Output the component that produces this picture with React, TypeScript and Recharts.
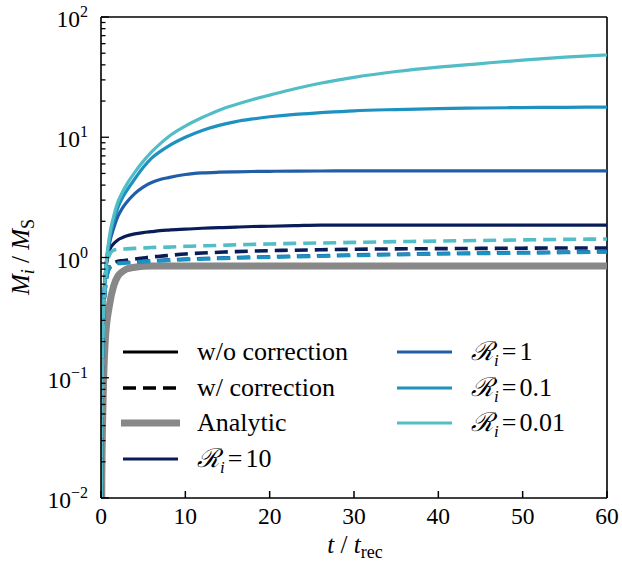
import React from 'react';
import { LineChart, Line, XAxis, YAxis, ReferenceLine, Customized } from 'recharts';

// time samples (t / t_rec)
const tValues = [0, 0.1, 0.25, 0.5, 1, 1.5, 2, 2.5, 3, 4, 5, 6, 7, 8, 10, 12, 14, 16, 18, 20, 23, 26, 30, 35, 40, 45, 50, 55, 60];

// w/o correction (solid)
const solidR10 = [0.001, 0.06, 0.3, 0.7, 1.15, 1.3, 1.4, 1.46, 1.51, 1.57, 1.61, 1.64, 1.67, 1.69, 1.72, 1.75, 1.77, 1.79, 1.81, 1.82, 1.84, 1.86, 1.86, 1.86, 1.86, 1.86, 1.86, 1.86, 1.86];
const solidR1 = [0.001, 0.06, 0.3, 0.7, 1.3, 1.75, 2.2, 2.55, 2.85, 3.4, 3.85, 4.2, 4.45, 4.62, 4.9, 5.05, 5.12, 5.16, 5.19, 5.21, 5.23, 5.24, 5.25, 5.25, 5.25, 5.25, 5.25, 5.25, 5.25];
const solidR01 = [0.001, 0.06, 0.3, 0.7, 1.4, 2.0, 2.6, 3.1, 3.55, 4.5, 5.6, 6.7, 7.6, 8.45, 10.0, 11.4, 12.55, 13.5, 14.2, 14.8, 15.5, 16.0, 16.6, 17.0, 17.3, 17.5, 17.65, 17.75, 17.8];
const solidR001 = [0.001, 0.06, 0.3, 0.7, 1.5, 2.2, 2.9, 3.45, 4.0, 5.1, 6.3, 7.55, 8.8, 10.1, 12.4, 14.6, 16.8, 18.7, 20.6, 22.4, 25.3, 28.1, 31.5, 35.2, 38.3, 41.0, 43.8, 46.3, 48.3];

// w/ correction (dashed)
const dashR10 = [0.001, 0.05, 0.25, 0.55, 0.85, 0.9, 0.93, 0.94, 0.95, 0.97, 0.99, 1.01, 1.025, 1.04, 1.07, 1.09, 1.105, 1.12, 1.13, 1.14, 1.15, 1.16, 1.17, 1.18, 1.185, 1.19, 1.195, 1.2, 1.2];
const dashR1 = [0.001, 0.05, 0.25, 0.55, 0.82, 0.87, 0.9, 0.905, 0.91, 0.92, 0.93, 0.94, 0.948, 0.955, 0.97, 0.98, 0.99, 1.0, 1.008, 1.015, 1.025, 1.035, 1.05, 1.065, 1.08, 1.09, 1.1, 1.11, 1.12];
const dashR01 = [0.001, 0.05, 0.25, 0.55, 0.81, 0.86, 0.89, 0.895, 0.9, 0.91, 0.92, 0.93, 0.938, 0.945, 0.96, 0.97, 0.98, 0.99, 0.998, 1.005, 1.015, 1.025, 1.04, 1.055, 1.07, 1.08, 1.09, 1.1, 1.11];
const dashR001 = [0.001, 0.05, 0.25, 0.6, 1.05, 1.15, 1.17, 1.175, 1.18, 1.19, 1.2, 1.21, 1.215, 1.22, 1.24, 1.25, 1.26, 1.275, 1.285, 1.295, 1.31, 1.32, 1.335, 1.355, 1.37, 1.385, 1.4, 1.415, 1.425];

// analytic
const analytic = [0.001, 0.015, 0.066, 0.2, 0.4, 0.58, 0.7, 0.76, 0.8, 0.83, 0.845, 0.85, 0.85, 0.85, 0.85, 0.85, 0.85, 0.85, 0.85, 0.85, 0.85, 0.85, 0.85, 0.85, 0.85, 0.85, 0.85, 0.85, 0.85];

const xTicks = [0, 10, 20, 30, 40, 50, 60];
const yMajor = [0.01, 0.1, 1, 10, 100];
const yMinorMultipliers = [2, 3, 4, 5, 6, 7, 8, 9];

const rLabels = ['10', '1', '0.1', '0.01'];
const rColors = ['#081d58', '#225ea8', '#1d91c0', '#52bdc6'];

const yTicks: number[] = [];
yMajor.forEach((m, i) => {
  yTicks.push(m);
  if (i < yMajor.length - 1) yMinorMultipliers.forEach((k) => yTicks.push(+(m * k).toPrecision(3)));
});

const data = tValues.map((t, i) => ({
  t,
  s10: solidR10[i],
  s1: solidR1[i],
  s01: solidR01[i],
  s001: solidR001[i],
  d10: dashR10[i],
  d1: dashR1[i],
  d01: dashR01[i],
  d001: dashR001[i],
  an: analytic[i],
}));

const solidKeys = ['s10', 's1', 's01', 's001'];
const dashKeys = ['d10', 'd1', 'd01', 'd001'];

const SERIF = { fontFamily: 'Liberation Serif' };
const DASH = '13 7';
const LEG_FS = 26;

const XTick = (props: any) => {
  const { x, y, payload } = props;
  return (
    <g>
      <line x1={x} x2={x} y1={y} y2={y - 7} stroke="#000" strokeWidth={1.5} />
      <text x={x} y={y + 26} textAnchor="middle" style={SERIF} fontSize={23.5} fill="#000">
        {payload.value}
      </text>
    </g>
  );
};

const YTick = (props: any) => {
  const { x, y, payload } = props;
  const v = payload.value;
  const lg = Math.log10(v);
  const exp = Math.round(lg);
  const major = Math.abs(lg - exp) < 1e-6;
  const len = major ? 8 : 4.5;
  return (
    <g>
      <line x1={x} x2={x + len} y1={y} y2={y} stroke="#000" strokeWidth={1.3} />
      {major && (
        <text x={x - 13} y={y + 10} textAnchor="end" style={SERIF} fontSize={23.5} fill="#000">
          10
          <tspan dy={-10} fontSize={16}>
            {exp < 0 ? '\u2212' + -exp : String(exp)}
          </tspan>
        </text>
      )}
    </g>
  );
};

const RText = ({ x, y, label }: { x: number; y: number; label: string }) => (
  <text x={x} y={y} style={SERIF} fontSize={LEG_FS} fill="#000">
    <tspan fontStyle="italic">ℛ</tspan>
    <tspan dy={6} fontSize={17} fontStyle="italic">i</tspan>
    <tspan dy={-6} dx={3}>=</tspan>
    <tspan dx={3}>{label}</tspan>
  </text>
);

const Overlay = () => {
  const col1X = 123;
  const col2X = 397;
  const rowY = [352, 388, 423, 459];
  const lineLen = 55;
  const textDx = 74;
  return (
    <g>
      <line x1={col1X} x2={col1X + lineLen} y1={rowY[0]} y2={rowY[0]} stroke="#000" strokeWidth={3.2} />
      <text x={col1X + textDx} y={rowY[0] + 8} style={SERIF} fontSize={LEG_FS} fill="#000">w/o correction</text>
      <line x1={col1X} x2={col1X + lineLen} y1={rowY[1]} y2={rowY[1]} stroke="#000" strokeWidth={3.4} strokeDasharray={DASH} />
      <text x={col1X + textDx} y={rowY[1] + 8} style={SERIF} fontSize={LEG_FS} fill="#000">w/ correction</text>
      <line x1={col1X - 2} x2={col1X + lineLen + 2} y1={rowY[2]} y2={rowY[2]} stroke="#888888" strokeWidth={7} />
      <text x={col1X + textDx} y={rowY[2] + 8} style={SERIF} fontSize={LEG_FS} fill="#000">Analytic</text>
      <line x1={col1X} x2={col1X + lineLen} y1={rowY[3]} y2={rowY[3]} stroke={rColors[0]} strokeWidth={3.2} />
      <RText x={col1X + textDx} y={rowY[3] + 8} label={rLabels[0]} />
      {[1, 2, 3].map((k, i) => (
        <g key={k}>
          <line x1={col2X} x2={col2X + lineLen} y1={rowY[i]} y2={rowY[i]} stroke={rColors[k]} strokeWidth={3.2} />
          <RText x={col2X + textDx} y={rowY[i] + 8} label={rLabels[k]} />
        </g>
      ))}
      <text x={355} y={553} textAnchor="middle" style={SERIF} fontSize={25} fill="#000">
        <tspan fontStyle="italic">t</tspan>
        <tspan> / </tspan>
        <tspan fontStyle="italic">t</tspan>
        <tspan dy={5} fontSize={18}>rec</tspan>
      </text>
      <text transform="translate(29,257) rotate(-90)" x={0} y={0} textAnchor="middle" style={SERIF} fontSize={25} fill="#000">
        <tspan fontStyle="italic">M</tspan>
        <tspan dy={5} fontSize={18} fontStyle="italic">i</tspan>
        <tspan dy={-5}> / </tspan>
        <tspan fontStyle="italic">M</tspan>
        <tspan dy={5} fontSize={18}>S</tspan>
      </text>
    </g>
  );
};

export default function App() {
  return (
    <div style={{ position: 'absolute', left: 0, top: 0, width: 622, height: 563, background: '#fff' }}>
      <LineChart width={622} height={563} data={data} margin={{ top: 17, right: 15, left: 0, bottom: 0 }}>
        <XAxis
          dataKey="t"
          type="number"
          domain={[0, 60]}
          ticks={xTicks}
          interval={0}
          allowDataOverflow
          height={65}
          tickSize={0}
          tickMargin={0}
          tickLine={false}
          tick={<XTick />}
          axisLine={{ stroke: '#000', strokeWidth: 1.6 }}
        />
        <YAxis
          type="number"
          scale="log"
          domain={[0.01, 100]}
          ticks={yTicks}
          interval={0}
          allowDataOverflow
          width={101}
          tickSize={0}
          tickMargin={0}
          tickLine={false}
          tick={<YTick />}
          axisLine={{ stroke: '#000', strokeWidth: 1.6 }}
        />
        <ReferenceLine y={100} stroke="#000" strokeWidth={1.6} />
        <ReferenceLine x={60} stroke="#000" strokeWidth={1.6} />
        <Line dataKey="an" type="monotone" stroke="#888888" strokeWidth={7} dot={false} isAnimationActive={false} />
        {solidKeys.map((k, i) => (
          <Line key={k} dataKey={k} type="monotone" stroke={rColors[i]} strokeWidth={3.2} dot={false} isAnimationActive={false} />
        ))}
        {dashKeys.map((k, i) => (
          <Line
            key={k}
            dataKey={k}
            type="monotone"
            stroke={rColors[i]}
            strokeWidth={3.6}
            strokeDasharray={DASH}
            dot={false}
            isAnimationActive={false}
          />
        ))}
        <Customized component={Overlay} />
      </LineChart>
    </div>
  );
}
